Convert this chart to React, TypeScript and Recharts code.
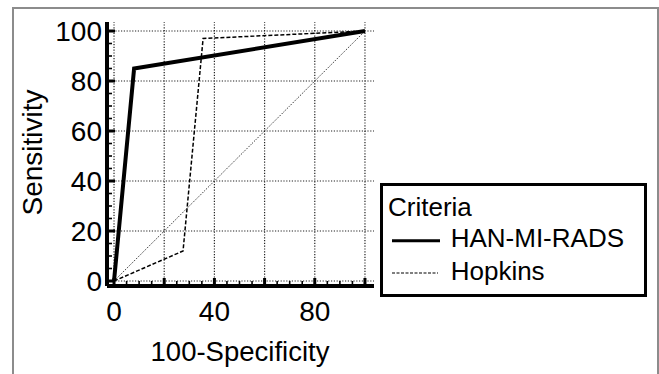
import React from 'react';
import { LineChart, Line, XAxis, YAxis, ReferenceLine } from 'recharts';

const hanX = [0, 8, 100];
const hanY = [0, 85, 100];
const hopX = [0, 27.5, 35.5, 100];
const hopY = [0, 12, 97, 100];
const chanceX = [0, 100];
const chanceY = [0, 100];
const axisTicks = [0, 5, 10, 15, 20, 25, 30, 35, 40, 45, 50, 55, 60, 65, 70, 75, 80, 85, 90, 95, 100];
const xTickLabels = [0, 40, 80];
const yTickLabels = [0, 20, 40, 60, 80, 100];
const gridValues = [0, 20, 40, 60, 80, 100];
const seriesNames = ['HAN-MI-RADS', 'Hopkins'];
const legendTitle = 'Criteria';
const xTitle = '100-Specificity';
const yTitle = 'Sensitivity';

const FONT = '"Liberation Sans", Arial, Helvetica, sans-serif';

const toPoints = (xs: number[], ys: number[]) => xs.map((x, i) => ({ x, y: ys[i] }));
const hanData = toPoints(hanX, hanY);
const hopData = toPoints(hopX, hopY);
const chanceData = toPoints(chanceX, chanceY);

const XTick = (props: any) => {
  const { x, y, payload } = props;
  const v = payload.value;
  const major = v % 20 === 0;
  return (
    <g>
      <line x1={x} x2={x} y1={y} y2={y - (major ? 8 : 5)} stroke="#000" strokeWidth={major ? 3 : 1.6} />
      {xTickLabels.includes(v) && (
        <text x={x} y={y + 35} textAnchor="middle" fontSize={28} fill="#000" fontFamily={FONT}>
          {v}
        </text>
      )}
    </g>
  );
};

const YTick = (props: any) => {
  const { x, y, payload } = props;
  const v = payload.value;
  const major = v % 20 === 0;
  return (
    <g>
      <line x1={x} x2={x + (major ? 8 : 5)} y1={y} y2={y} stroke="#000" strokeWidth={major ? 3 : 1.6} />
      {yTickLabels.includes(v) && (
        <text x={x - 5} y={y} dy="0.36em" textAnchor="end" fontSize={28} fill="#000" fontFamily={FONT}>
          {v}
        </text>
      )}
    </g>
  );
};

const XTitle = () => (
  <text x={240} y={361} textAnchor="middle" fontSize={27.5} fill="#000" fontFamily={FONT}>
    {xTitle}
  </text>
);

const YTitle = () => (
  <text x={42} y={152.5} transform="rotate(-90, 42, 152.5)" textAnchor="middle" fontSize={28} fill="#000" fontFamily={FONT}>
    {yTitle}
  </text>
);

const Legend = () => (
  <svg width={267} height={114} style={{ position: 'absolute', left: 380, top: 183 }}>
    <rect x={1.5} y={1.5} width={264} height={111} fill="#fff" stroke="#000" strokeWidth={3} />
    <text x={8} y={33} fontSize={26} fill="#000" fontFamily={FONT}>{legendTitle}</text>
    <line x1={12} x2={60} y1={57.7} y2={57.7} stroke="#000" strokeWidth={3} />
    <text x={70.7} y={63.7} fontSize={26} fill="#000" fontFamily={FONT}>{seriesNames[0]}</text>
    <line x1={12} x2={58} y1={90} y2={90} stroke="#000" strokeWidth={1.2} strokeDasharray="3 1.5" />
    <text x={70.7} y={97} fontSize={26} fill="#000" fontFamily={FONT}>{seriesNames[1]}</text>
  </svg>
);

export default function App() {
  return (
    <div style={{ position: 'absolute', left: 0, top: 0, width: 659, height: 374, overflow: 'hidden', background: '#fff' }}>
      <div
        style={{
          position: 'absolute',
          left: 12,
          top: 7,
          width: 647,
          height: 420,
          boxSizing: 'border-box',
          borderTop: '2px solid #8c8c8c',
          borderLeft: '2px solid #8c8c8c',
          borderRight: '2px solid #8c8c8c',
        }}
      />
      <div style={{ position: 'absolute', left: 0, top: 0 }}>
        <LineChart width={659} height={374} margin={{ top: 22, right: 285, bottom: 0, left: 0 }}>
          <XAxis
            dataKey="x"
            type="number"
            domain={[-2.8, 103.6]}
            allowDataOverflow
            ticks={axisTicks}
            interval={0}
            tickSize={0}
            tickMargin={0}
            tickLine={false}
            tick={<XTick />}
            height={88}
            axisLine={{ stroke: '#000', strokeWidth: 4 }}
            label={<XTitle />}
          />
          <YAxis
            dataKey="y"
            type="number"
            domain={[-2, 103.6]}
            allowDataOverflow
            ticks={axisTicks}
            interval={0}
            tickSize={0}
            tickMargin={0}
            tickLine={false}
            tick={<YTick />}
            width={107}
            axisLine={{ stroke: '#000', strokeWidth: 4 }}
            label={<YTitle />}
          />
          {gridValues.map((g) => (
            <ReferenceLine key={'gx' + g} x={g} stroke="#222" strokeWidth={1.2} strokeDasharray="1.2 1.6" />
          ))}
          {gridValues.map((g) => (
            <ReferenceLine key={'gy' + g} y={g} stroke="#222" strokeWidth={1.2} strokeDasharray="1.2 1.6" />
          ))}
          <Line data={chanceData} dataKey="y" type="linear" stroke="#222" strokeWidth={1} strokeDasharray="1.2 1.4" dot={false} activeDot={false} isAnimationActive={false} />
          <Line data={hopData} dataKey="y" type="linear" stroke="#000" strokeWidth={1.5} strokeDasharray="4 2" dot={false} activeDot={false} isAnimationActive={false} />
          <Line data={hanData} dataKey="y" type="linear" stroke="#000" strokeWidth={4} dot={false} activeDot={false} isAnimationActive={false} />
        </LineChart>
      </div>
      <Legend />
    </div>
  );
}
